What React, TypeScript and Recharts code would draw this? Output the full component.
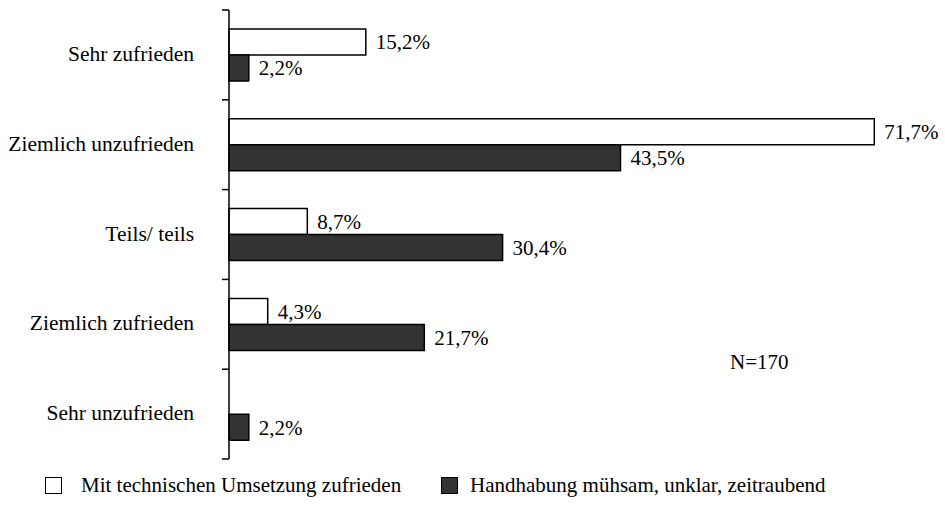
import React from 'react'
import { Bar, BarChart, XAxis, YAxis, LabelList, Legend } from 'recharts'

const categories = ['Sehr zufrieden', 'Ziemlich unzufrieden', 'Teils/ teils', 'Ziemlich zufrieden', 'Sehr unzufrieden']
const zufrieden = [15.2, 71.7, 8.7, 4.3, null]
const muehsam = [2.2, 43.5, 30.4, 21.7, 2.2]
const seriesNames = ['Mit technischen Umsetzung zufrieden', 'Handhabung mühsam, unklar, zeitraubend']

const data = categories.map((name, i) => ({ name, a: zufrieden[i], b: muehsam[i] }))

const FONT = '"Liberation Serif", monospace'

const fmt = (v: any) => (v == null ? '' : String(v).replace('.', ',') + '%')

function CatTick(props: any) {
  const { x, y, payload, index, visibleTicksCount } = props
  const ax = x + 35
  const half = payload.offset
  return (
    <g>
      <line x1={ax - 7} x2={ax} y1={y - half} y2={y - half} stroke="#000" strokeWidth={1.5} />
      {index === visibleTicksCount - 1 && (
        <line x1={ax - 7} x2={ax} y1={y + half} y2={y + half} stroke="#000" strokeWidth={1.5} />
      )}
      <text x={x} y={y} dy={6} textAnchor="end" fontSize={21.5} style={{ fontFamily: FONT }} fill="#000">
        {payload.value}
      </text>
    </g>
  )
}

function LegendBox(props: any) {
  const items = [...(props.payload || [])].sort(
    (p: any, q: any) => seriesNames.indexOf(p.value) - seriesNames.indexOf(q.value)
  )
  return (
    <div style={{ display: 'flex', fontFamily: FONT, fontSize: 21, color: '#000' }}>
      {items.map((it: any, i: number) => (
        <div key={i} style={{ display: 'flex', alignItems: 'center', marginLeft: i === 0 ? 45 : 0, width: i === 0 ? 396 : 'auto' }}>
          <span style={{ width: 15, height: 15, border: '1.5px solid #000', background: it.payload.fill, marginRight: i === 0 ? 19 : 12, display: 'inline-block' }} />
          <span>{it.value}</span>
        </div>
      ))}
    </div>
  )
}

export default function App() {
  return (
    <div style={{ position: 'absolute', left: 0, top: 0, width: 945, height: 510, background: '#fff', fontFamily: FONT }}>
      <BarChart
        width={945}
        height={510}
        data={data}
        layout="vertical"
        margin={{ top: 10, right: 41, left: 0, bottom: 26 }}
        barGap={0}
        style={{ fontFamily: FONT }}
      >
        <XAxis type="number" domain={[0, 75]} hide />
        <YAxis
          type="category"
          dataKey="name"
          width={229}
          axisLine={{ stroke: '#000', strokeWidth: 1.5 }}
          tickLine={false}
          tickSize={7}
          tickMargin={28}
          tick={<CatTick />}
          interval={0}
        />
        <Legend
          verticalAlign="bottom"
          align="left"
          content={<LegendBox />}
          wrapperStyle={{ left: 0, bottom: 12, width: 945 }}
        />
        <Bar dataKey="a" name={seriesNames[0]} fill="#ffffff" stroke="#000" strokeWidth={1.5} barSize={26} isAnimationActive={false}>
          <LabelList dataKey="a" position="right" offset={10} formatter={fmt} fontSize={21} style={{ fontFamily: FONT }} fill="#000" />
        </Bar>
        <Bar dataKey="b" name={seriesNames[1]} fill="#333333" stroke="#000" strokeWidth={1.5} barSize={26} isAnimationActive={false}>
          <LabelList dataKey="b" position="right" offset={10} formatter={fmt} fontSize={21} style={{ fontFamily: FONT }} fill="#000" />
        </Bar>
      </BarChart>
      <div style={{ position: 'absolute', left: 730, top: 350, fontFamily: FONT, fontSize: 21, color: '#000' }}>N=170</div>
    </div>
  )
}
